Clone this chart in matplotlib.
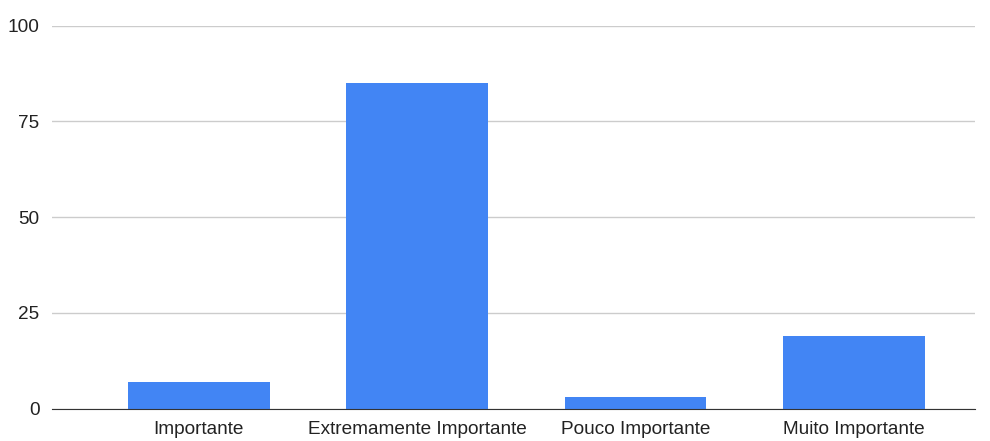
import matplotlib
matplotlib.use("Agg")
import matplotlib.pyplot as plt

categories = ["Importante", "Extremamente Importante", "Pouco Importante", "Muito Importante"]
values = [7, 85, 3, 19]
yticks = [0, 25, 50, 75, 100]

plt.rcParams["font.family"] = ["Liberation Sans", "DejaVu Sans"]

fig = plt.figure(figsize=(9.9, 4.41), dpi=100)
ax = fig.add_axes([52 / 990, 32.3 / 441, 923 / 990, 383 / 441])

x = range(len(categories))
ax.bar(x, values, width=0.65, color="#4285F4", zorder=3)

ax.set_ylim(0, 100)
ax.set_xlim(-0.673, 3.555)
ax.set_yticks(yticks)
ax.set_xticks(list(x))
ax.set_xticklabels(categories)
ax.yaxis.grid(True, color="#cccccc", linewidth=1, zorder=0)
ax.tick_params(axis="both", length=0, labelsize=13.7, colors="#222222")
ax.tick_params(axis="y", pad=9)
ax.tick_params(axis="x", pad=9)

for side in ["left", "right", "top"]:
    ax.spines[side].set_visible(False)
ax.spines["bottom"].set_color("#333333")
ax.spines["bottom"].set_zorder(4)

fig.savefig("out.png", dpi=100)
